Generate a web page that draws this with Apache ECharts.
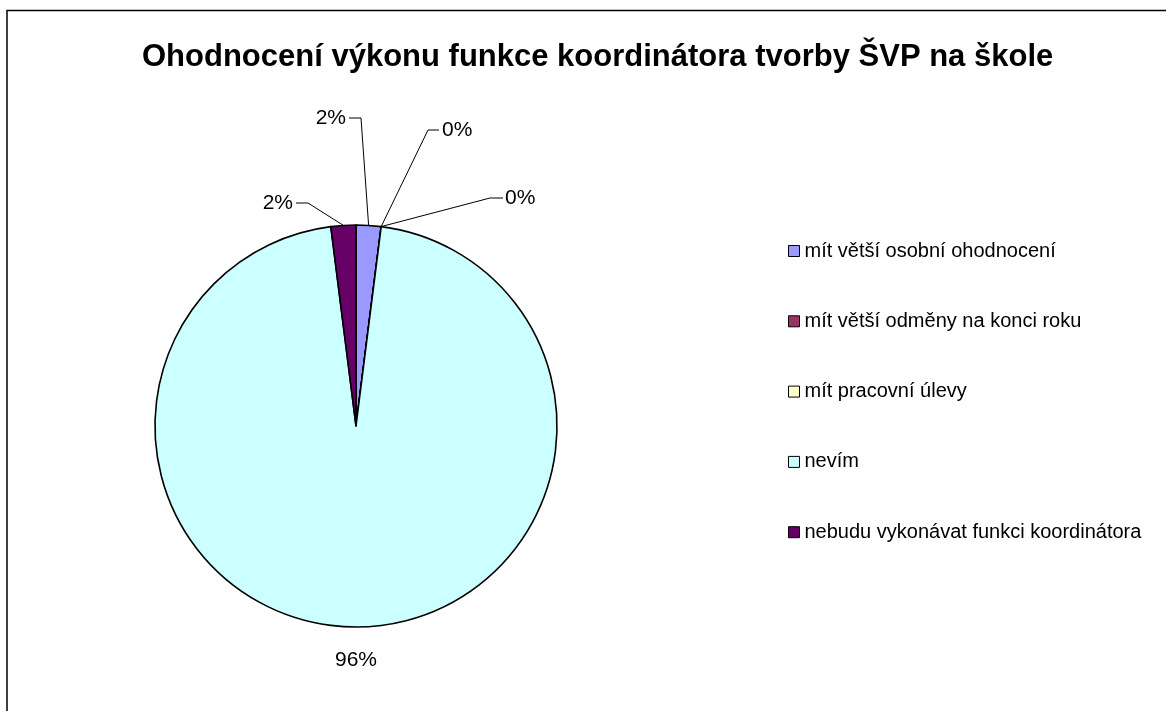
<!DOCTYPE html>
<html>
<head>
<meta charset="utf-8">
<script src="https://cdn.jsdelivr.net/npm/echarts@6/dist/echarts.min.js"></script>
<style>
  html, body { margin: 0; padding: 0; background: #fff; }
  #chart { width: 1166px; height: 711px; }
</style>
</head>
<body>
<div id="chart"></div>
<script>
// answers, in drawing order (clockwise from 12 o'clock)
const categories = [
  'mít větší osobní ohodnocení',
  'mít větší odměny na konci roku',
  'mít pracovní úlevy',
  'nevím',
  'nebudu vykonávat funkci koordinátora'
];
const percents = [2, 0, 0, 96, 2];
const colors = ['#9999FF', '#993366', '#FFFFCC', '#CCFFFF', '#660066'];

// where each percentage label sits (text anchor, plus the bend of the leader line)
const labelSpots = [
  { x: 346, y: 118, align: 'right', bend: [361, 118], end: [349, 118] },
  { x: 442, y: 130, align: 'left', bend: [428, 130], end: [439, 130] },
  { x: 505, y: 198, align: 'left', bend: [490, 198], end: [503, 198] },
  { x: 356, y: 660, align: 'center', bend: null },
  { x: 293, y: 203, align: 'right', bend: [308, 203], end: [296, 203] }
];

const chart = echarts.init(document.getElementById('chart'));

const data = categories.map((name, i) => ({
  name: name,
  value: percents[i],
  itemStyle: { color: colors[i] },
  labelLine: { show: labelSpots[i].bend !== null }
}));

chart.setOption({
  animation: false,
  backgroundColor: '#fff',
  graphic: [{
    type: 'rect',
    shape: { x: 7, y: 10.5, width: 1200, height: 750 },
    style: { fill: 'none', stroke: '#000', lineWidth: 1.5 },
    silent: true
  }],
  title: {
    text: 'Ohodnocení výkonu funkce koordinátora tvorby ŠVP na škole',
    left: 137,
    top: 37,
    textStyle: {
      fontFamily: 'Liberation Sans',
      fontWeight: 'bold',
      fontSize: 31,
      color: '#000'
    }
  },
  legend: {
    orient: 'vertical',
    left: 783,
    top: 236,
    itemWidth: 11,
    itemHeight: 11,
    itemGap: 50.3,
    icon: 'rect',
    itemStyle: { borderColor: '#000', borderWidth: 1 },
    selectedMode: false,
    textStyle: {
      fontFamily: 'Liberation Sans',
      fontSize: 20,
      lineHeight: 20,
      color: '#000'
    },
    data: categories
  },
  series: [{
    type: 'pie',
    center: [356, 426],
    radius: 201,
    startAngle: 90,
    clockwise: true,
    avoidLabelOverlap: false,
    silent: true,
    itemStyle: { borderColor: '#000', borderWidth: 1.6 },
    label: {
      show: true,
      position: 'outside',
      formatter: p => Math.round(p.percent) + '%',
      fontFamily: 'Liberation Sans',
      fontSize: 21,
      color: '#000'
    },
    labelLine: {
      show: true,
      length: 20,
      length2: 10,
      lineStyle: { color: '#000', width: 1 }
    },
    labelLayout: function (params) {
      const s = labelSpots[params.dataIndex];
      const out = { x: s.x, y: s.y, align: s.align, verticalAlign: 'middle' };
      if (s.bend && params.labelLinePoints) {
        out.labelLinePoints = [params.labelLinePoints[0], s.bend, s.end];
      }
      return out;
    },
    data: data
  }]
});
</script>
</body>
</html>
